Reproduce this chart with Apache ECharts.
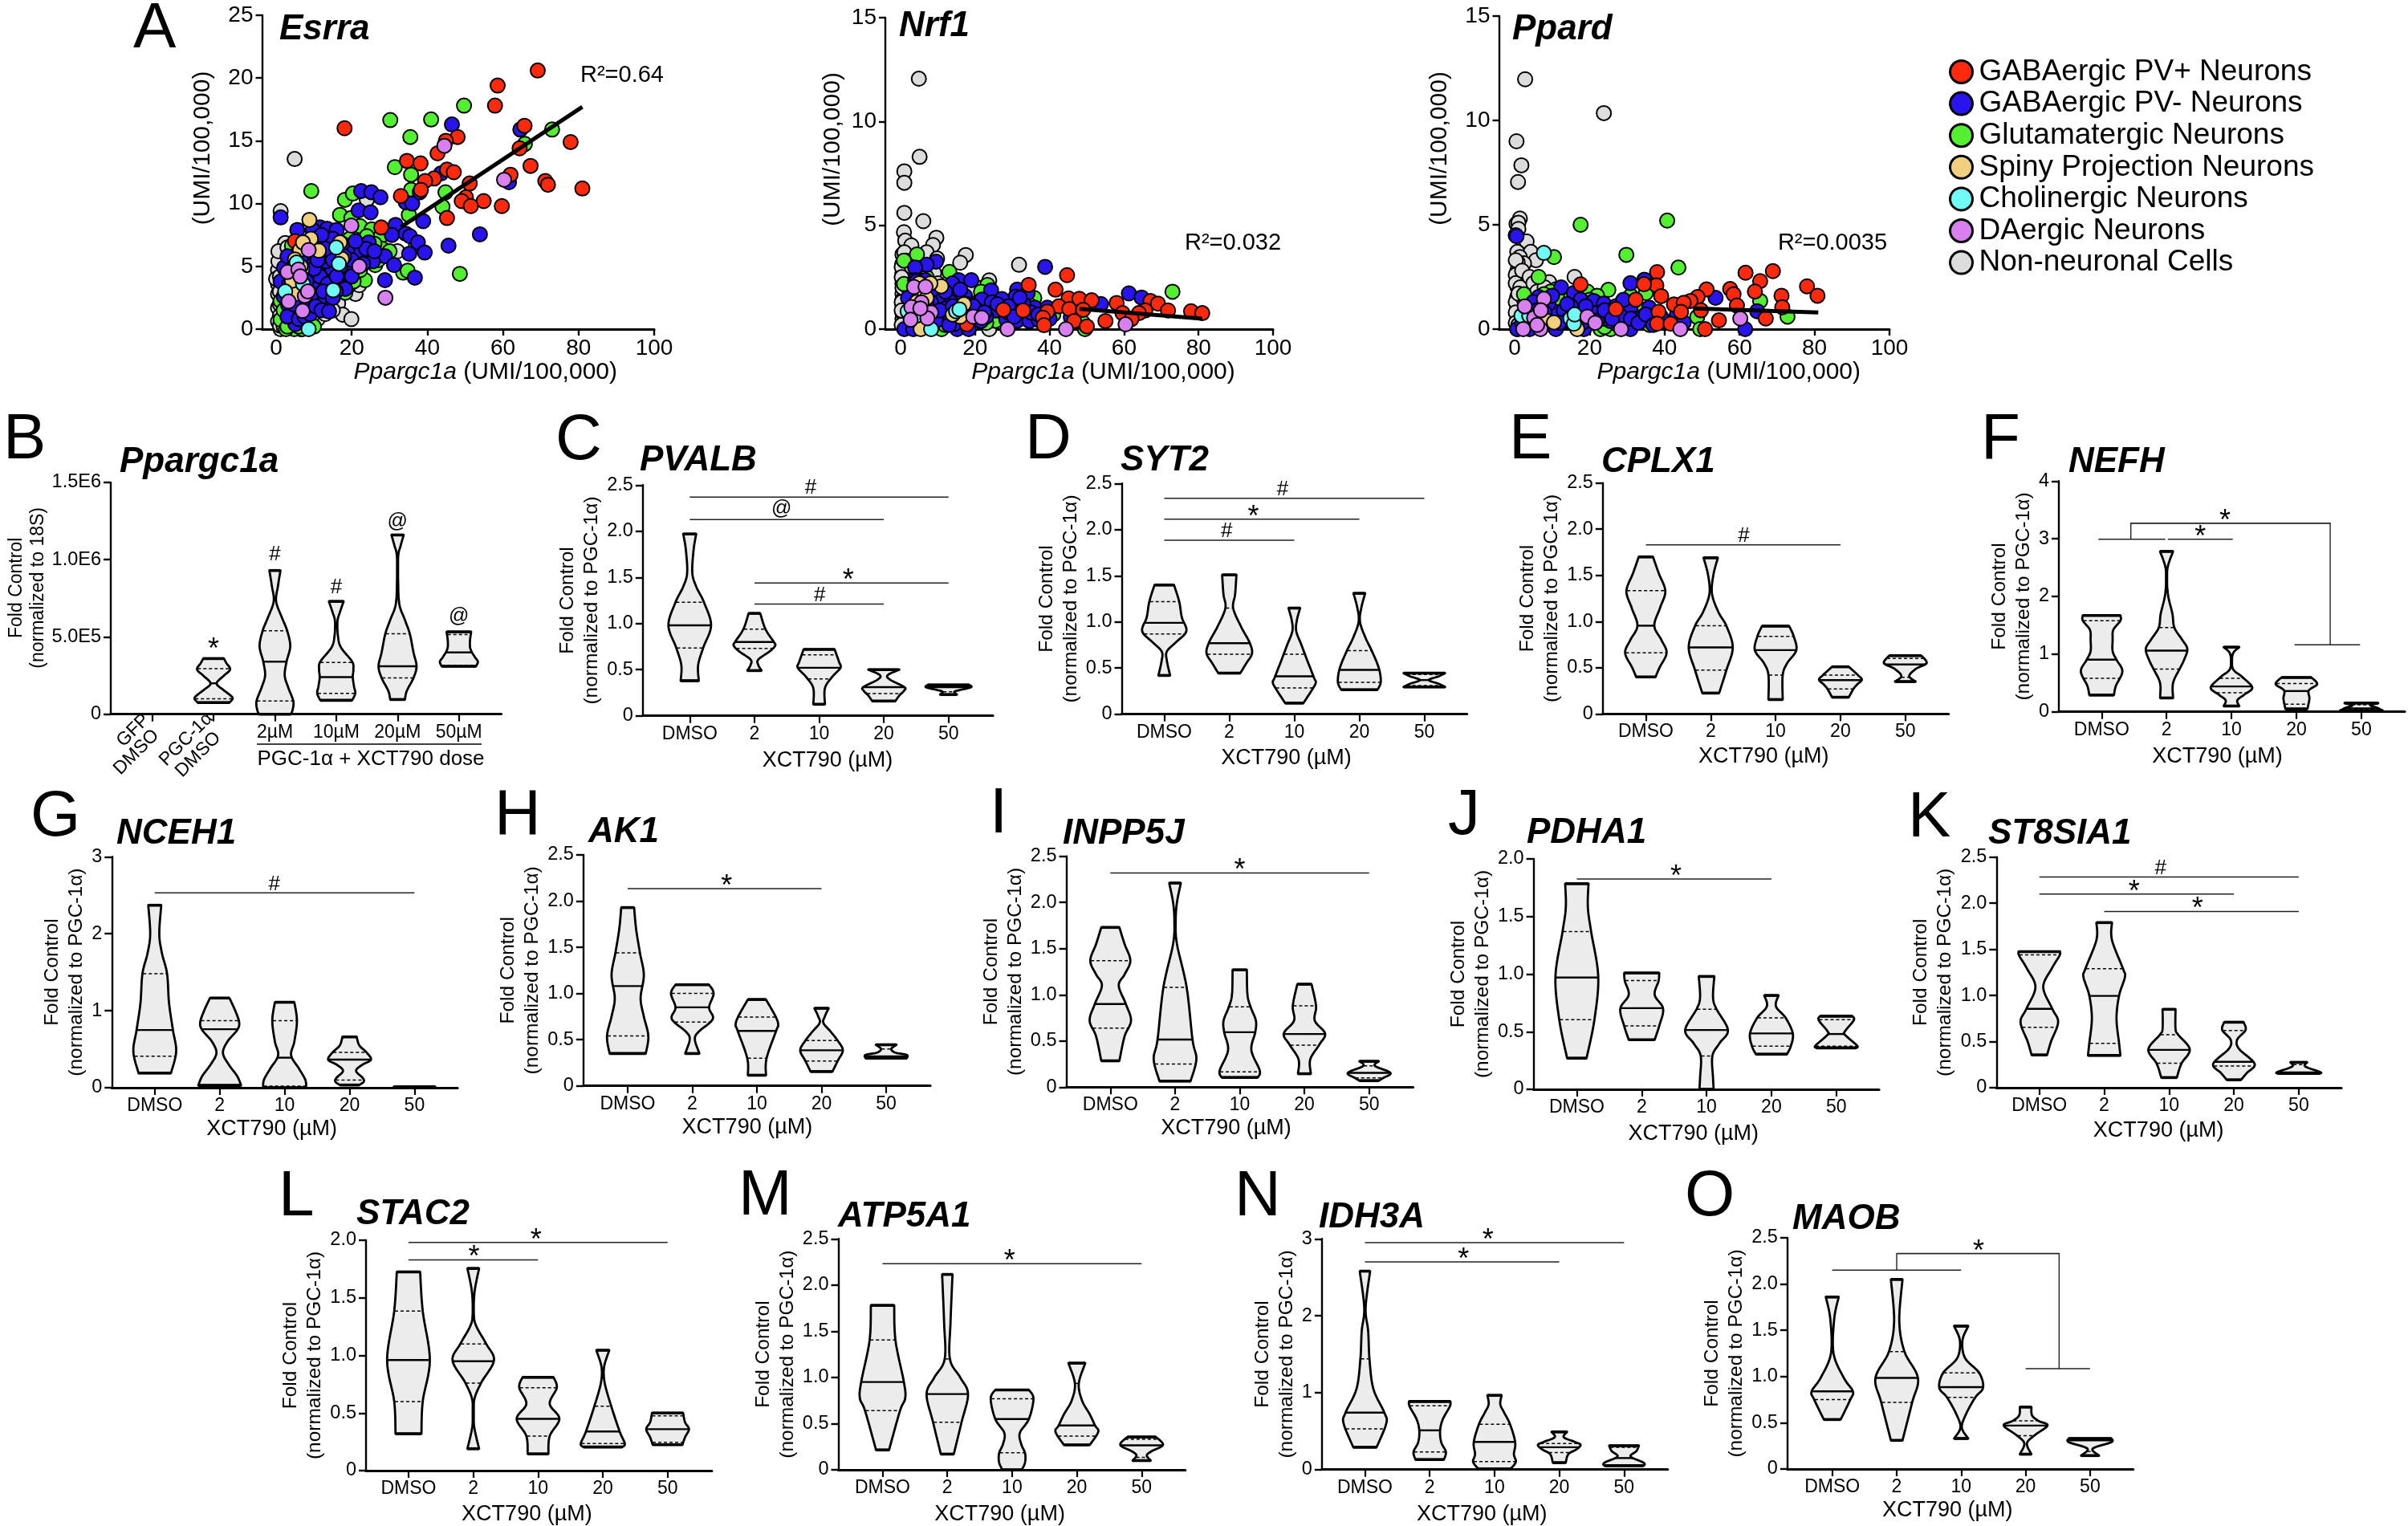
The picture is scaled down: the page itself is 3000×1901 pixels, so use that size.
<!DOCTYPE html>
<html><head><meta charset="utf-8">
<script src="https://cdn.jsdelivr.net/npm/echarts@6/dist/echarts.min.js"></script>
<style>html,body{margin:0;padding:0;background:#fff}#c{width:3000px;height:1901px}</style>
</head><body><div id="c"></div>
<script>
// ---------- Panel A: scatter values [Ppargc1a, gene], UMI/100,000 ----------
const cellTypes = ['GABAergic PV+ Neurons','GABAergic PV- Neurons','Glutamatergic Neurons','Spiny Projection Neurons','Cholinergic Neurons','DAergic Neurons','Non-neuronal Cells'];
const xTicksA = [0,20,40,60,80,100];

const esrraRed = [[69.2,20.6],[58.6,19.4],[57.9,17.8],[18.1,16],[65.7,16.2],[48,15.3],[44.9,15],[77.9,14.9],[64.4,14.4],[42.7,14],[34.6,13.4],[38.2,13.2],[67.3,13],[45.2,12.7],[47,12.5],[62,12.3],[41.8,12],[39.4,11.8],[51.2,11.6],[71.2,11.8],[71.9,11.5],[81,11.2],[38.3,11.1],[33,10.6],[50.2,10.5],[49.1,10.2],[54.9,10.2],[51.5,9.8],[59.7,9.8],[45.2,8.85],[27.8,8.1],[5,7]];
const esrraBlue = [[64.6,15.9],[46.5,16.3],[43.6,12.4],[61.6,11.7],[22.5,11],[25.2,10.9],[27.6,10.5],[34.3,10.1],[36,10],[38,10.9],[21.8,9.45],[25,9.3],[1.2,8.9],[38.9,8.6],[31.6,8.3],[5.6,7.9],[11.6,8.1],[9.7,7.9],[13.5,8],[16,7.9],[30.6,7.5],[34.3,7.6],[35.4,7.4],[53.9,7.55],[37.5,6.9],[24.5,6.9],[45.6,6.65],[13.4,6.9],[39.3,6.1],[35.2,6],[22.2,6],[23.8,6.4],[18.8,6.2],[28.8,5.8],[25.6,5.4],[31.2,5.1],[19.1,4.7],[11.6,4.7],[14.8,4.8],[13.2,5.4],[36.7,4.1],[28.8,3.9],[1.2,3.8],[18.3,3.2],[10,3.2],[11.6,4.2],[13.7,2.2],[11.3,2.3],[9.3,2.2],[7.4,1.9],[5.1,.4],[6.3,1.3],[3.2,1.9],[7.4,3.6],[2.1,4.9],[8.4,5.3],[15.8,3],[13.7,3.6],[16.9,6.2],[9.5,2.8],[6.3,2.8],[12,6.3],[15,7.2],[10,6],[6.5,5.5],[17,5],[20,5.5],[8.5,4.5],[5,3.8],[12.5,3],[15,2.5],[4,3],[17.5,6.8],[21,7],[3,5.8],[4,4.6],[6,6.6],[8,6.4],[10,7.2],[12,7.5],[14,6.2],[15,5.5],[16,4.2],[18,5.8],[20,4.2],[23,5.2],[26,6.2],[2,2.6],[3,1],[4.5,2],[6,.8],[7.5,1],[9,1.2],[10.5,1.8],[12,1.5],[14,1.4],[10,4.8],[8,3.8],[3.5,3.6],[11,5.5],[13,6.4]];
const esrraGreen = [[49.7,17.8],[30.2,16.65],[41,16.7],[73,15.9],[35.5,15.3],[65.8,14.75],[31.4,12.9],[35.7,12.3],[35.7,11.1],[44.8,10.9],[9.3,11],[18.2,10.3],[20.3,10.8],[44,9.75],[35.1,9.1],[16.9,9.1],[19.9,8.85],[22.2,8.2],[25.3,7.95],[27.7,7.4],[19.5,7.2],[28.1,6.4],[37,6.7],[4.2,6.65],[48.6,4.4],[33.6,4.5],[34.8,4.65],[26.2,5.1],[23.5,3.9],[14,3.85],[19.7,4.05],[18.3,2.9],[1.2,2.25],[1.2,.75],[4.8,0],[11.6,1.7],[9.5,1.07],[10.6,5.3],[16.9,4.05],[22.2,4.7],[13.7,4.7],[6.3,4.3],[2.6,0],[8.4,2.35],[3.7,1.3],[16,5.8],[12,4],[9,3.6],[24,6],[21,5],[7,0],[5,1],[14,3],[3,3.5],[8,4.8],[18,4.8],[26,6.8],[12,2.8],[2,1.5],[3,2.4],[6,1.8],[7.5,2.6],[9,4.4],[12,5.8],[14,5],[15,3.4],[17,3.5],[19,3.4],[20.5,3.8],[22,5.8],[24,7.4],[27,5.5],[30,6.2],[3,.2],[6,.2],[10,.2]];
const esrraGold = [[8.8,8.7],[9.2,7.2],[11.3,6.25],[6.3,6.3],[16.9,6.9],[7.1,6.9],[17.4,5.6],[5,5.55],[6.9,4.8],[5.1,2.8],[4.2,3.85],[6.5,5]];
const esrraCyan = [[15.9,6.5],[16.6,5.2],[5.4,5.3],[15.1,3.1],[7.1,3.6],[2.4,3],[8.6,0]];
const esrraPurple = [[44.5,14.6],[60.3,11.9],[19.9,8.25],[8.6,6.3],[22,5],[3,4.55],[5.9,4.75],[6.4,4.2],[7.6,2.65],[28.9,2.5],[3.3,2.2],[7,1.45],[8.4,3]];
const esrraGray = [[4.9,13.55],[1.2,9.4],[24,10.3],[2.4,6.85],[32.1,6.2],[1.4,5.85],[1.8,5.5],[20.6,3.25],[16.4,2.05],[17.6,1.15],[19.9,.8],[1.2,0],[.5,4.7],[.5,3.6],[.5,2.8],[.5,1.7],[1,1.07],[13.7,1.9],[8.4,.4],[1.6,2.8],[0,4],[.5,.6],[.6,5.4],[.6,6.2],[1,4.2],[1,3],[1,2],[1,.3],[2,.2],[3,.8],[2,1],[5,.3],[6.5,0],[9,1],[11,.8],[13,1.2],[15,1.5],[4,6],[3,6.5],[21,2.8],[22,3.5]];
const esrraFit = [[33,8.13],[81,17.7]];

const nrf1Red = [[44.7,2.6],[34.4,2.13],[41.6,1.9],[45.1,1.48],[48,1.46],[51.3,1.39],[58,1.26],[67.1,1.35],[69.1,1.23],[42.5,1.1],[45.3,.97],[49,.93],[27.6,.93],[32.9,.9],[39.4,.84],[71.8,.9],[78,.86],[81,.77],[59.6,.77],[65.7,.9],[64,.77],[62,.49],[38.2,.55],[55,.39],[46.6,.39],[50,.13],[38.5,.19],[17.8,.23]];
const nrf1Blue = [[38.8,3],[9.5,3.25],[7,3.1],[3.9,2.97],[15.6,2.36],[19,2.36],[6.7,2.36],[3.9,2.36],[13.9,2.2],[24.3,1.87],[31.3,1.9],[34.1,1.74],[61.3,1.72],[64.7,1.52],[11.3,1.55],[17.3,1.59],[15.4,1.68],[30.9,1.57],[27.2,1.45],[13.5,1.29],[21.8,1.42],[24.5,1.29],[53.8,1.21],[36,1.03],[39.4,1.03],[25.5,.9],[31.3,.41],[28.4,.45],[34.6,.39],[37,.45],[45.7,.58],[13,.52],[21.6,.39],[1,0],[15.2,0],[18.3,0],[3.4,0],[10,.77],[16.8,.77],[15.9,.39],[14.5,.25],[20.7,.9],[4.3,2.3],[8.2,1.3],[6.3,1.9],[29,.8],[33,1.2],[23,.6],[12,1],[18,1.2],[2,1.5],[3,.9],[5,1.6],[6,.5],[7,1.2],[8.5,1.9],[9.5,.4],[10.5,.9],[12,1.8],[13,.2],[14,1.1],[16,1.9],[18,.5],[19.5,1.1],[22.5,.8],[26,1.2],[29,1.1],[30.5,.6],[32,1.5],[35,.8],[37,.7],[40,.5]];
const nrf1Green = [[4.4,3.6],[.9,3.3],[13.1,2.75],[.9,2.17],[23.3,2.13],[73,1.8],[35.9,1.5],[41,.7],[49.5,0],[11,0],[25.5,.7],[25.5,.4],[19.2,1.15],[21.6,1.8],[2.4,1.5],[4.3,.9],[49,.3],[34.6,1.16],[33.2,.77],[13,1],[16.8,1.4],[7,2.5],[9,.5],[22,1],[3,.3],[6.5,2],[8,.3],[10,1.1],[12,.2],[15,1.9],[17,.3],[19,.2],[23,.3],[24,1.5],[28,.7],[30,1.2]];
const nrf1Gold = [[10.9,2.06],[6.3,1.74],[16.3,1.03],[5.4,0],[7.7,.9],[4.3,1.3],[16,.6],[5,2.2],[7,1.5],[8,2.2],[17,1.2],[14,.7]];
const nrf1Cyan = [[14.9,.86],[8.2,0],[1.9,.86],[4.3,.65],[15.8,.95]];
const nrf1Purple = [[3.6,2.03],[6.7,2.04],[5.6,1.29],[2.9,1.06],[8.2,.8],[2.7,.45],[7.2,.52],[19.5,.6],[21.8,.55],[28.7,0],[44.4,0],[60.4,.23],[5.3,1]];
const nrf1Gray = [[4.9,12.06],[5.1,8.3],[1,7.6],[1,7.05],[1,5.6],[6.1,5.2],[.9,4.67],[1.25,4.26],[9.6,4.4],[2.9,4.03],[8.7,4.05],[7,3.7],[17.5,3.57],[16,3.2],[31.8,3.1],[9.8,3.4],[23.8,2.35],[23.8,0],[.5,3.6],[.5,3.15],[.5,2.7],[1.9,2.6],[.5,2.2],[.5,1.7],[.5,1.15],[.5,.5],[1.4,.9],[20.7,1.9],[21.6,.5],[5.3,2.85],[20.7,1.55],[.5,.8],[.5,1.4],[.5,2],[2,2],[.3,3],[.3,2.5],[.3,1.3],[.3,.2],[1,3.7],[1.5,3.3],[2.5,1.5],[3,3],[6,2],[8,2.3],[9,2.7],[10,2.2],[14,1.9],[18,1.6],[19,1.9],[22,2],[3,.2],[.3,.9]];
const nrf1Fit = [[48,.98],[81,.5]];

const ppardRed = [[68.9,2.78],[61.6,2.7],[65.5,2.3],[38,2.73],[37.8,2.1],[34.5,2.15],[17.6,2.14],[78,2.05],[51.2,1.9],[57.5,1.92],[64.1,1.8],[39.1,1.58],[80.8,1.6],[58.4,1.67],[48.8,1.54],[71.2,1.6],[46.9,1.35],[32.3,1.41],[42.5,1.18],[45.1,1.26],[59.3,1.13],[71.4,1.05],[38.4,.83],[44.4,.83],[49.7,.9],[27,.96],[54.5,.42],[67,.51],[38,.26],[41.6,.26],[50.8,0]];
const ppardBlue = [[.5,4.45],[30.9,2.2],[34.6,2.37],[12.4,2],[15.8,1.73],[6.4,1.54],[53.6,1.5],[17.6,1.41],[21.1,1.35],[23.8,1.22],[28.4,1.22],[35.9,1.03],[11,.83],[13.1,.9],[30.9,.9],[34.5,.64],[64.7,.86],[61.5,0],[25.6,.38],[28.2,.64],[43.3,.7],[45.1,.32],[36.2,.38],[.7,0],[11,0],[18.5,0],[30.9,0],[21.1,.77],[23.8,.5],[9,1.2],[15,1.1],[26,.9],[32,.5],[19,.4],[4,0],[14,.4],[3,.9],[5,1.3],[7,.3],[8,.8],[10,1.6],[12,.3],[14,1.2],[16,.7],[18,.3],[19,1.1],[22,.4],[24,.9],[26,.5],[27,1.1],[29,1.4],[31,.5],[33,.3],[35,.7],[37,.2],[39,.6],[2,.3],[6,.9]];
const ppardGreen = [[17.6,5],[40.7,5.2],[29.8,3.56],[10.5,3.45],[43.7,2.95],[6.4,2.5],[25,1.88],[2.5,1.67],[65.5,1.35],[72.8,.6],[48.7,.58],[49.5,0],[35,1.73],[19.4,1.8],[9.6,1.8],[12.3,1.35],[22,1.6],[22.9,0],[25.6,0],[32.7,.38],[7.8,1.67],[38,.64],[16.7,1.15],[29,.3],[20,.9],[5,1.3],[8,.5],[10,.2],[13,.6],[15,1.5],[18,.5],[20,1.4],[23,1.2],[26,.3],[28,.5],[31,1.6],[33,1],[36,.2],[40,.4],[24,.1]];
const ppardGold = [[8.7,.38],[10.5,.32],[16.7,0]];
const ppardCyan = [[7.8,3.65],[1.8,.64],[14.9,.51],[15.8,.26],[3.9,.64],[16,.7]];
const ppardPurple = [[7.8,1.45],[2.7,1.09],[5.2,.54],[19.4,.6],[21.5,.3],[60.2,.51],[44.2,0],[28.4,0],[2.3,0],[6.9,0],[6,.2],[7,.9]];
const ppardGray = [[2.8,11.97],[23.8,10.35],[.5,9],[1.8,7.85],[.9,7.05],[1.4,5.3],[.5,5.05],[3.2,4.2],[.7,3.7],[4.3,3.7],[1.4,3.45],[5.7,3.3],[2.5,3.15],[.7,2.8],[1.6,2.45],[16,2.5],[9.2,2.25],[.7,2.05],[3.4,1.9],[.7,1.55],[.7,1.03],[.7,.5],[.7,0],[13,1.65],[1,5.1],[1,4.8],[.8,3.2],[.3,4.5],[.3,3.3],[.3,2.6],[.3,2.2],[.3,1.3],[.3,.8],[.3,.3],[1.5,2],[2,2.8],[2.5,1.4],[4,2.5],[5,2.2],[6,1.8],[8,2],[1,1.7],[1,.2],[11,1.9]];
const ppardFit = [[48,.99],[81,.8]];

// ---------- Violins: [q3, median, q1, [[value, half-width as % of category spacing], ...]] ----------
const doseLabels = ['DMSO','2','10','20','50'];
const bLabels = ['','','2µM','10µM','20µM','50µM'];
const bTickLabels = ['0','5.0E5','1.0E6','1.5E6'];
const ticks25 = [0,.5,1,1.5,2,2.5];
const ticks20 = [0,.5,1,1.5,2];
const ticks3 = [0,1,2,3];
const ticks4 = [0,1,2,3,4];
const ticksB = [0,5,10,15];

const ppargc1aViolins = [null,
 [2.95,2,1,[[3.6,17],[3.3,21],[2.9,27],[2.5,17],[2,5],[1.6,15],[1.2,28],[1,31],[.75,26]]],
 [5.4,3.4,.85,[[9.3,9],[8.3,5],[7.3,2],[6.2,12],[5.4,20],[4.4,25],[3.4,19],[2.5,16],[1.7,22],[.85,30],[.3,29],[0,26]]],
 [3.35,2.4,1.35,[[7.3,12],[6.6,6],[6,2],[5,3],[4.3,8],[3.4,26],[2.9,28],[2.4,27],[1.8,29],[1.35,31],[.9,26]]],
 [5.2,3.1,2.35,[[11.6,10],[10.9,5],[10.2,1],[8.5,1],[7.1,3],[6.1,12],[5.2,20],[4,26],[3.1,31],[2.35,26],[1.5,15],[.95,12]]],
 [5.15,4,3.15,[[5.33,20],[4.7,18],[4.2,19],[3.7,26],[3.4,31],[3.1,28]]]];
const pvalbViolins = [
 [1.23,.98,.735,[[1.97,10],[1.8,6],[1.55,4],[1.4,10],[1.23,22],[.98,33],[.74,21],[.55,13],[.38,14]]],
 [.94,.8,.73,[[1.11,9],[.94,17],[.8,30],[.76,32],[.7,24],[.61,6],[.55,6],[.49,11]]],
 [.66,.52,.4,[[.72,24],[.66,27],[.58,31],[.52,33],[.42,20],[.3,9],[.125,9]]],
 [.49,.31,.24,[[.5,24],[.44,6],[.39,10],[.31,32],[.27,31],[.22,24],[.16,18]]],
 [.33,.31,.26,[[.335,32],[.31,35],[.28,18],[.26,9],[.23,13]]]];
const syt2Violins = [
 [1.22,.99,.87,[[1.4,15],[1.22,23],[1.05,27],[.9,34],[.78,18],[.68,4],[.58,4],[.42,9]]],
 [1.15,.77,.65,[[1.51,11],[1.3,9],[1.15,6],[.95,18],[.78,31],[.66,35],[.55,26],[.445,17]]],
 [.65,.41,.285,[[1.15,9],[1.02,4],[.9,3],[.75,11],[.6,19],[.4,30],[.34,33],[.25,26],[.12,14]]],
 [.69,.48,.345,[[1.31,9],[1.15,3],[1,1],[.82,10],[.69,19],[.5,30],[.35,33],[.265,28]]],
 [.43,.37,.31,[[.445,32],[.41,22],[.37,7],[.33,22],[.295,32]]]];
const cplx1Violins = [
 [1.335,.955,.66,[[1.7,11],[1.52,20],[1.33,30],[1.15,22],[.955,13],[.8,24],[.66,32],[.5,21],[.4,15]]],
 [.955,.72,.475,[[1.69,11],[1.5,4],[1.3,2],[1.1,12],[.955,24],[.72,34],[.47,24],[.225,13]]],
 [.84,.69,.42,[[.95,21],[.84,28],[.69,32],[.55,18],[.42,11],[.155,11]]],
 [.42,.365,.27,[[.51,13],[.42,27],[.37,33],[.32,26],[.27,20],[.18,13]]],
 [.6,.535,.395,[[.63,25],[.55,33],[.49,17],[.41,6],[.35,16]]]];
const nefhViolins = [
 [1.58,.905,.58,[[1.67,29],[1.58,29],[1.42,18],[1.25,17],[1.05,17],[.9,23],[.7,32],[.45,22],[.29,19]]],
 [1.46,1.06,.74,[[2.78,10],[2.46,1],[2.05,2],[1.7,9],[1.46,12],[1.25,24],[1.09,32],[.9,27],[.74,20],[.5,10],[.24,10]]],
 [.58,.44,.33,[[1.12,12],[1,2],[.75,2],[.6,17],[.42,32],[.3,20],[.2,9],[.1,12]]],
 [.49,.36,.13,[[.595,23],[.48,32],[.37,19],[.23,20],[.05,17]]],
 [.12,.06,.04,[[.15,26],[.11,14],[.07,24],[.02,33]]]];
const nceh1Violins = [
 [1.48,.75,.41,[[2.37,10],[2,7],[1.75,11],[1.48,19],[1.1,22],[.75,28],[.47,33],[.19,25]]],
 [.87,.76,.03,[[1.165,15],[1,24],[.85,30],[.75,27],[.6,12],[.45,5],[.3,14],[.15,27],[.03,33]]],
 [.87,.39,.02,[[1.11,15],[.87,19],[.6,15],[.42,10],[.25,22],[.1,32],[0,33]]],
 [.46,.365,.1,[[.66,11],[.55,15],[.46,26],[.365,33],[.3,20],[.22,10],[.13,20],[.08,22],[.035,15]]],
 [null,.005,null,[[.012,32],[0,32]]]];
const ak1Violins = [
 [1.44,1.08,.54,[[1.93,10],[1.7,13],[1.44,19],[1.2,25],[.95,20],[.75,25],[.54,32],[.35,28]]],
 [1,.85,.69,[[1.095,26],[1,33],[.85,26],[.75,32],[.69,28],[.58,9],[.5,4],[.35,11]]],
 [.745,.595,.3,[[.935,14],[.75,29],[.66,33],[.6,30],[.3,15],[.115,14]]],
 [.49,.385,.27,[[.84,11],[.75,5],[.68,3],[.58,15],[.49,25],[.385,33],[.27,25],[.155,17]]],
 [.4,.32,.31,[[.445,16],[.4,8],[.36,14],[.335,32],[.3,32]]]];
const inpp5jViolins = [
 [1.37,.9,.64,[[1.73,14],[1.55,22],[1.37,31],[1.22,22],[1.1,13],[.9,24],[.72,32],[.55,22],[.285,14]]],
 [1.08,.515,.25,[[2.21,9],[2,3],[1.8,1],[1.55,3],[1.08,18],[.515,27],[.3,33],[.065,24]]],
 [.87,.595,.165,[[1.27,11],[1,12],[.865,17],[.72,25],[.595,24],[.4,18],[.18,31],[.105,28]]],
 [.88,.575,.455,[[1.115,11],[.88,18],[.72,16],[.58,32],[.46,23],[.3,9],[.145,10]]],
 [.23,.155,.1,[[.28,15],[.23,9],[.155,33],[.1,22],[.07,15]]]];
const pdha1Violins = [
 [1.37,.97,.605,[[1.785,18],[1.58,17],[1.37,22],[.98,33],[.6,27],[.27,15]]],
 [.945,.705,.55,[[1.01,27],[.94,26],[.82,20],[.7,33],[.55,27],[.43,20]]],
 [.695,.515,.29,[[.98,12],[.8,10],[.7,15],[.515,33],[.4,20],[.29,9],[.1,10],[0,11]]],
 [.62,.485,.375,[[.815,11],[.72,7],[.62,22],[.485,33],[.375,30],[.305,24]]],
 [.605,.48,.375,[[.635,25],[.6,27],[.5,13],[.47,14],[.38,32],[.36,31]]]];
const st8sia1Violins = [
 [1.44,.855,.655,[[1.475,32],[1.43,31],[1.29,19],[1.09,6],[.855,20],[.71,29],[.5,18],[.355,12]]],
 [1.29,.995,.48,[[1.79,12],[1.6,12],[1.29,29],[1.2,32],[1,23],[.75,19],[.48,23],[.35,25]]],
 [.575,.41,.265,[[.85,10],[.64,10],[.575,14],[.415,32],[.26,19],[.11,12]]],
 [.62,.28,.235,[[.71,15],[.625,18],[.52,5],[.42,8],[.26,32],[.16,20],[.085,11]]],
 [.25,.165,.16,[[.275,13],[.23,10],[.17,33],[.155,33]]]];
const stac2Violins = [
 [1.385,.96,.6,[[1.725,18],[1.385,22],[.96,33],[.6,22],[.32,20]]],
 [1.1,.95,.76,[[1.755,9],[1.55,2],[1.35,1],[1.25,5],[1.1,20],[.955,32],[.76,12],[.6,1],[.4,1],[.19,9]]],
 [.72,.45,.3,[[.81,24],[.72,29],[.58,18],[.45,33],[.3,18],[.145,16]]],
 [.56,.34,.235,[[1.045,10],[.9,2],[.76,3],[.56,13],[.34,26],[.235,34],[.205,30]]],
 [.475,.36,.245,[[.5,24],[.42,27],[.36,33],[.29,27],[.225,23]]]];
const atp5a1Violins = [
 [1.405,.95,.64,[[1.78,18],[1.4,20],[.95,33],[.775,35],[.64,27],[.215,10]]],
 [1.2,.82,.515,[[2.115,8],[1.6,5],[1.2,4],[1,20],[.82,32],[.515,22],[.17,10]]],
 [.77,.55,.185,[[.865,26],[.77,33],[.55,26],[.4,12],[.28,14],[.18,20],[.08,20],[0,15]]],
 [.935,.48,.365,[[1.155,13],[.935,3],[.75,8],[.6,20],[.48,28],[.41,33],[.27,20]]],
 [.33,.265,.135,[[.355,22],[.27,33],[.2,15],[.155,8],[.1,14]]]];
const idh3aViolins = [
 [1.44,.74,.53,[[2.58,8],[2.1,1],[1.8,5],[1.44,7],[1.05,13],[.74,30],[.6,33],[.29,18]]],
 [.83,.51,.23,[[.885,32],[.82,31],[.65,20],[.5,16],[.35,18],[.23,25],[.13,22]]],
 [.59,.36,.105,[[.965,11],[.85,9],[.74,15],[.59,24],[.355,32],[.2,30],[.1,33],[.01,25]]],
 [.34,.29,.22,[[.49,12],[.42,7],[.36,24],[.32,33],[.26,26],[.2,14],[.09,10]]],
 [.29,.15,.06,[[.31,23],[.24,19],[.17,10],[.1,28],[.07,32],[.05,30]]]];
const maobViolins = [
 [null,.84,.75,[[1.86,10],[1.62,3],[1.25,2],[.985,18],[.84,32],[.75,28],[.535,13]]],
 [1.27,.985,.72,[[2.05,9],[1.6,4],[1.27,12],[.985,33],[.72,24],[.31,9]]],
 [1.04,.885,.775,[[1.545,11],[1.39,2],[1.2,6],[1.04,28],[.88,34],[.775,22],[.6,8],[.45,1],[.33,11]]],
 [.52,.47,.36,[[.67,9],[.58,10],[.52,20],[.47,34],[.36,13],[.275,2],[.16,9]]],
 [.325,.31,.19,[[.33,33],[.29,33],[.22,4],[.145,14]]]];

// Significance marks: [from category, to category, value, symbol, symbol category]
const ppargc1aSig = [[1,1,4.5,'*',1],[2,2,10.35,'#',2],[3,3,8.2,'#',3],[4,4,12.5,'@',4],[5,5,6.35,'@',5]];
const pvalbSig = [[0,4,2.37,'#',1.87],[0,3,2.126,'@',1.42],[1,4,1.44,'*',2.45],[1,3,1.21,'#',2.01]];
const syt2Sig = [[0,4,2.34,'#',1.82],[0,3,2.114,'*',1.37],[0,2,1.885,'#',.96]];
const cplx1Sig = [[0,3,1.83,'#',1.51]];
const nefhSig = [[-.05,.98,2.99,'',0],[1.02,2.02,2.99,'*',1.52],[2.97,3.98,1.16,'',0],[.45,3.52,3.27,'*',1.9]];
const nefhBracket = [[.45,2.99],[.45,3.27],[3.52,3.27],[3.52,1.16]];
const nceh1Sig = [[0,4,2.53,'#',1.84]];
const ak1Sig = [[0,3,2.135,'*',1.53]];
const inpp5jSig = [[0,4,2.32,'*',2]];
const pdha1Sig = [[0,3,1.825,'*',1.53]];
const st8sia1Sig = [[0,4,2.285,'#',1.87],[0,3,2.1,'*',1.46],[1,4,1.91,'*',2.44]];
const stac2Sig = [[0,4,1.98,'*',1.97],[0,2,1.83,'*',1.01]];
const atp5a1Sig = [[0,4,2.23,'*',1.96]];
const idh3aSig = [[0,4,2.95,'*',1.9],[0,3,2.7,'*',1.52]];
const maobSig = [[0,2,2.15,'',0],[3,4,1.085,'',0],[1,3.52,2.33,'*',2.27]];
const maobBracket = [[1,2.15],[1,2.33],[3.52,2.33],[3.52,1.085]];

// ---------- drawing ----------
const FONT = '"Liberation Sans", Arial, sans-serif';
const COL = {red:'#ff2a0d',blue:'#2a14ee',green:'#52f030',gold:'#f0d080',cyan:'#70fbf5',purple:'#d880f0',gray:'#dcdcdc'};
const grids=[],xAxes=[],yAxes=[],series=[],texts=[];
const txt=(text,x,base,size,o={})=>texts.push(Object.assign({type:'text',x,y:base-.3465*size,silent:true,style:{text,fontSize:size,fontFamily:FONT,fontWeight:o.weight||'normal',fontStyle:o.style||'normal',fill:'#000',align:o.align||'left',verticalAlign:'middle'}},o.rot?{rotation:o.rot}:{}));
const axLine=w=>({show:true,onZero:false,lineStyle:{color:'#000',width:w}});
const axTick=(vals,len,w)=>({show:true,customValues:vals,length:len,lineStyle:{color:'#000',width:w}});

function scatterPanel(c){
  const g=grids.length;
  grids.push({left:c.axisX,top:c.yTop,width:c.xEnd-c.axisX,height:c.y0-c.yTop});
  const yt=[];for(let v=0;v<=c.yMax;v+=5)yt.push(v);
  xAxes.push({type:'value',gridIndex:g,min:(c.axisX-c.x0)/c.dx,max:100,axisLine:axLine(3),axisTick:axTick(xTicksA,8,2.4),splitLine:{show:false},
    axisLabel:{customValues:xTicksA,fontSize:28,fontFamily:FONT,color:'#000',margin:10,hideOverlap:false,showMinLabel:true,showMaxLabel:true},
    name:'{i|Ppargc1a} (UMI/100,000)',nameLocation:'middle',nameGap:39,nameTextStyle:{fontSize:30,fontFamily:FONT,color:'#000',padding:[0,0,0,c.nameShift*2],rich:{i:{fontStyle:'italic',fontSize:30,fontFamily:FONT,color:'#000'}}}});
  yAxes.push({type:'value',gridIndex:g,min:0,max:c.yMax,axisLine:axLine(2.4),axisTick:axTick(yt,8,2.4),splitLine:{show:false},
    axisLabel:{customValues:yt,fontSize:28,fontFamily:FONT,color:'#000',margin:11},
    name:'(UMI/100,000)',nameLocation:'middle',nameRotate:90,nameGap:c.yGap,nameTextStyle:{fontSize:30,fontFamily:FONT,color:'#000',padding:[0,0,0,60]}});
  const base={type:'scatter',xAxisIndex:g,yAxisIndex:g,symbolSize:18,clip:false,animation:false};
  series.push({type:'line',xAxisIndex:g,yAxisIndex:g,data:c.fit,showSymbol:false,lineStyle:{color:'#000',width:5},clip:false,animation:false,silent:true});
  const s=(name,data,col)=>series.push(Object.assign({},base,{name,data,itemStyle:{color:col,borderColor:'#000',borderWidth:2,opacity:1}}));
  s(cellTypes[6],c.gray,COL.gray);
  s(cellTypes[2],c.green,COL.green);
  s(cellTypes[1],c.blue,COL.blue);
  s(cellTypes[0],c.red,COL.red);
  s(cellTypes[3],c.gold,COL.gold);
  s(cellTypes[4],c.cyan,COL.cyan);
  s(cellTypes[5],c.purple,COL.purple);
}

function curve(p){
  const out=[];
  for(let i=0;i<p.length-1;i++){
    const a=p[Math.max(i-1,0)],b=p[i],c=p[i+1],d=p[Math.min(i+2,p.length-1)];
    for(let k=0;k<8;k++){
      const t=k/8,cr=(j)=>.5*(2*b[j]+(c[j]-a[j])*t+(2*a[j]-5*b[j]+4*c[j]-d[j])*t*t+(3*b[j]-a[j]-3*c[j]+d[j])*t*t*t);
      out.push([Math.min(b[0],Math.max(c[0],cr(0))),Math.max(.8,cr(1))]);
    }
  }
  out.push(p[p.length-1]);
  return out;
}
function widthAt(cv,v){
  for(let i=0;i<cv.length-1;i++){
    const a=cv[i],b=cv[i+1];
    if(v<=a[0]&&v>=b[0]){const t=a[0]===b[0]?0:(a[0]-v)/(a[0]-b[0]);return a[1]+(b[1]-a[1])*t;}
  }
  return v>cv[0][0]?cv[0][1]:cv[cv.length-1][1];
}
const GLYPH={'*':{size:36,above:9,fix:7},'#':{size:26,above:11,fix:0},'@':{size:25,above:14,fix:1},'':{size:10,above:0,fix:0}};

function violinPanel(c){
  const g=grids.length;
  grids.push({left:c.axisX,top:c.yTop,width:c.xEnd-c.axisX,height:c.y0-c.yTop});
  const xv=c.labels.map((_,i)=>i);
  xAxes.push({type:'value',gridIndex:g,min:(c.axisX-c.x0)/c.dx,max:(c.xEnd-c.x0)/c.dx,axisLine:axLine(3.2),axisTick:axTick(xv,9,2.2),splitLine:{show:false},
    axisLabel:{customValues:xv,fontSize:23,fontFamily:FONT,color:'#000',margin:11,formatter:v=>c.labels[Math.round(v)]||''},
    name:c.xName?'{a|'+c.xName+'}':'',nameLocation:'middle',nameGap:c.xGap,nameTextStyle:{fontSize:27,fontFamily:FONT,color:'#000',padding:[0,-c.xShift*2,0,0],rich:{a:{fontSize:27,fontFamily:FONT,color:'#000'}}}});
  yAxes.push({type:'value',gridIndex:g,min:0,max:c.yMax,axisLine:axLine(2.4),axisTick:axTick(c.yTicks,9,2.4),splitLine:{show:false},
    axisLabel:{customValues:c.yTicks,fontSize:23.5,fontFamily:FONT,color:'#000',margin:12,formatter:c.yFmt},
    name:c.yName||'Fold Control\n(normalized to PGC-1α)',nameLocation:'middle',nameRotate:90,nameGap:c.yGap,nameTextStyle:{fontSize:c.yNameSize||24.5,lineHeight:c.yNameLH||30,fontFamily:FONT,color:'#000',padding:[0,0,0,c.yPad||0]}});
  const items=c.violins.map((v,i)=>v?[i,v[1]]:null).filter(Boolean);
  series.push({type:'custom',xAxisIndex:g,yAxisIndex:g,clip:false,animation:false,silent:true,data:items,encode:{x:0,y:1},
    renderItem(p,api){
      const i=api.value(0),v=c.violins[i],cv=curve(v[3]);
      const R=cv.map(([val,w])=>api.coord([i+w/100,val])),L=cv.map(([val,w])=>api.coord([i-w/100,val])).reverse();
      const ch=[{type:'polygon',shape:{points:R.concat(L)},style:{fill:'#ececec',stroke:'#000',lineWidth:2.8,lineJoin:'round'}}];
      const seg=(val,w,st)=>{const a=api.coord([i-w/100,val]),b=api.coord([i+w/100,val]);ch.push({type:'line',shape:{x1:a[0],y1:a[1],x2:b[0],y2:b[1]},style:Object.assign({stroke:'#000',fill:null},st)});};
      seg(cv[0][0],cv[0][1],{lineWidth:3.6});
      seg(cv[cv.length-1][0],cv[cv.length-1][1],{lineWidth:3.6});
      if(v[0]!=null)seg(v[0],widthAt(cv,v[0])-1,{lineWidth:1.5,lineDash:[4,3]});
      if(v[2]!=null)seg(v[2],widthAt(cv,v[2])-1,{lineWidth:1.5,lineDash:[4,3]});
      seg(v[1],widthAt(cv,v[1]),{lineWidth:2.4});
      return {type:'group',children:ch};
    }});
  series.push({type:'custom',xAxisIndex:g,yAxisIndex:g,clip:false,animation:false,silent:true,data:c.sig.map(s=>[s[0],s[2]]),encode:{x:0,y:1},
    renderItem(p,api){
      const s=c.sig[p.dataIndex],ch=[],G=GLYPH[s[3]];
      const a=api.coord([s[0],s[2]]),b=api.coord([s[1],s[2]]),t=api.coord([s[4],s[2]]);
      if(s[0]!==s[1])ch.push({type:'line',shape:{x1:a[0],y1:a[1],x2:b[0],y2:b[1]},style:{stroke:'#222',lineWidth:1.5,fill:null}});
      if(s[3])ch.push({type:'text',style:{text:s[3],x:t[0],y:t[1]-(s[0]!==s[1]?G.above:0)+G.fix,fontSize:G.size,fontFamily:FONT,fill:'#000',align:'center',verticalAlign:'middle'}});
      return {type:'group',children:ch};
    }});
  if(c.bracket)series.push({type:'custom',xAxisIndex:g,yAxisIndex:g,clip:false,animation:false,silent:true,data:[[c.bracket[0][0],c.bracket[0][1]]],encode:{x:0,y:1},
    renderItem(p,api){return {type:'polyline',shape:{points:c.bracket.map(q=>api.coord(q))},style:{stroke:'#222',lineWidth:1.4,fill:null}};}});
  txt(c.letter,c.lx,c.lb,80);
  txt(c.gene,c.tx,c.tb,44,{weight:'bold',style:'italic'});
}

scatterPanel({axisX:326.5,xEnd:815,x0:344,dx:4.71,y0:410,yTop:19,yMax:25,yGap:59,nameShift:34,fit:esrraFit,red:esrraRed,blue:esrraBlue,green:esrraGreen,gold:esrraGold,cyan:esrraCyan,purple:esrraPurple,gray:esrraGray});
scatterPanel({axisX:1103,xEnd:1586,x0:1122,dx:4.64,y0:410,yTop:22,yMax:15,yGap:50,nameShift:30,fit:nrf1Fit,red:nrf1Red,blue:nrf1Blue,green:nrf1Green,gold:nrf1Gold,cyan:nrf1Cyan,purple:nrf1Purple,gray:nrf1Gray});
scatterPanel({axisX:1867.5,xEnd:2354,x0:1887,dx:4.67,y0:410,yTop:20,yMax:15,yGap:59,nameShift:43,fit:ppardFit,red:ppardRed,blue:ppardBlue,green:ppardGreen,gold:ppardGold,cyan:ppardCyan,purple:ppardPurple,gray:ppardGray});

const f1=v=>v===0?'0':v.toFixed(1), f0=v=>String(v), xn='XCT790 (µM)';
violinPanel({letter:'B',lx:4,lb:577,gene:'Ppargc1a',tx:149,tb:591,axisX:138,y0:889.7,yTop:601,x0:189.7,dx:76.4,xEnd:624.5,yMax:15,yTicks:ticksB,yFmt:v=>bTickLabels[ticksB.indexOf(v)],labels:bLabels,violins:ppargc1aViolins,sig:ppargc1aSig,yName:'Fold Control\n(normalized to 18S)',yNameSize:23,yNameLH:27,yGap:77,yPad:26,xGap:0,xShift:0});
violinPanel({letter:'C',lx:692,lb:578,gene:'PVALB',tx:797,tb:589,axisX:800.8,y0:891.7,yTop:604.3,x0:859.3,dx:80.6,xEnd:1237,yMax:2.5,yTicks:ticks25,yFmt:f1,labels:doseLabels,violins:pvalbViolins,sig:pvalbSig,xName:'',yGap:28,xGap:42,xShift:0});
violinPanel({letter:'D',lx:1277,lb:577,gene:'SYT2',tx:1396,tb:589,axisX:1397.5,y0:889.7,yTop:602.3,x0:1450.5,dx:81,xEnd:1827.6,yMax:2.5,yTicks:ticks25,yFmt:f1,labels:doseLabels,violins:syt2Violins,sig:syt2Sig,xName:xn,yGap:42,xGap:41,xShift:-10});
violinPanel({letter:'E',lx:1880,lb:577,gene:'CPLX1',tx:1995,tb:591,axisX:1996.8,y0:889.3,yTop:601.7,x0:2050.5,dx:80.8,xEnd:2427.6,yMax:2.5,yTicks:ticks25,yFmt:f1,labels:doseLabels,violins:cplx1Violins,sig:cplx1Sig,xName:xn,yGap:47,xGap:40,xShift:-15});
violinPanel({letter:'F',lx:2468,lb:577,gene:'NEFH',tx:2577,tb:591,axisX:2565,y0:886.7,yTop:599.3,x0:2618.3,dx:80.9,xEnd:2996,yMax:4,yTicks:ticks4,yFmt:f0,labels:doseLabels,violins:nefhViolins,sig:nefhSig,bracket:nefhBracket,xName:xn,yGap:28,xGap:42,xShift:-18});
violinPanel({letter:'G',lx:38,lb:1047,gene:'NCEH1',tx:145,tb:1054,axisX:139.3,y0:1355,yTop:1067.3,x0:192.8,dx:80.9,xEnd:570,yMax:3,yTicks:ticks3,yFmt:f0,labels:doseLabels,violins:nceh1Violins,sig:nceh1Sig,xName:xn,yGap:29,xGap:38,xShift:-16});
violinPanel({letter:'H',lx:616,lb:1045,gene:'AK1',tx:733,tb:1052,axisX:726.8,y0:1352.7,yTop:1065,x0:782,dx:80.5,xEnd:1159,yMax:2.5,yTicks:ticks25,yFmt:f1,labels:doseLabels,violins:ak1Violins,sig:ak1Sig,xName:xn,yGap:42,xGap:38,xShift:-12});
violinPanel({letter:'I',lx:1233,lb:1043,gene:'INPP5J',tx:1324,tb:1054,axisX:1328.5,y0:1354.3,yTop:1066.7,x0:1383.3,dx:80.6,xEnd:1760.5,yMax:2.5,yTicks:ticks25,yFmt:f1,labels:doseLabels,violins:inpp5jViolins,sig:inpp5jSig,xName:xn,yGap:39,xGap:38,xShift:-17});
violinPanel({letter:'J',lx:1804,lb:1045,gene:'PDHA1',tx:1902,tb:1053,axisX:1910.6,y0:1357,yTop:1070,x0:1964.5,dx:80.8,xEnd:2341,yMax:2,yTicks:ticks20,yFmt:f1,labels:doseLabels,violins:pdha1Violins,sig:pdha1Sig,xName:xn,yGap:42,xGap:42,xShift:-16});
violinPanel({letter:'K',lx:2377,lb:1048,gene:'ST8SIA1',tx:2477,tb:1054,axisX:2487.3,y0:1355,yTop:1067.7,x0:2540.7,dx:80.8,xEnd:2917,yMax:2.5,yTicks:ticks25,yFmt:f1,labels:doseLabels,violins:st8sia1Violins,sig:st8sia1Sig,xName:xn,yGap:47,xGap:40,xShift:-13});
violinPanel({letter:'L',lx:347,lb:1520,gene:'STAC2',tx:444,tb:1528,axisX:456,y0:1832,yTop:1545,x0:508.9,dx:80.7,xEnd:886.8,yMax:2,yTicks:ticks20,yFmt:f1,labels:doseLabels,violins:stac2Violins,sig:stac2Sig,xName:xn,yGap:42,xGap:41,xShift:-15});
violinPanel({letter:'M',lx:920,lb:1519,gene:'ATP5A1',tx:1044,tb:1531,axisX:1044.5,y0:1831,yTop:1543.3,x0:1099.5,dx:80.7,xEnd:1476.7,yMax:2.5,yTicks:ticks25,yFmt:f1,labels:doseLabels,violins:atp5a1Violins,sig:atp5a1Sig,xName:xn,yGap:46,xGap:42,xShift:-15});
violinPanel({letter:'N',lx:1538,lb:1520,gene:'IDH3A',tx:1643,tb:1532,axisX:1646.9,y0:1830.7,yTop:1543.3,x0:1700.5,dx:80.7,xEnd:2077.7,yMax:3,yTicks:ticks3,yFmt:f0,labels:doseLabels,violins:idh3aViolins,sig:idh3aSig,xName:xn,yGap:29,xGap:42,xShift:-16});
violinPanel({letter:'O',lx:2099,lb:1520,gene:'MAOB',tx:2233,tb:1534,axisX:2226.9,y0:1830,yTop:1542,x0:2282.7,dx:80.3,xEnd:2657.6,yMax:2.5,yTicks:ticks25,yFmt:f1,labels:doseLabels,violins:maobViolins,sig:maobSig,bracket:maobBracket,xName:xn,yGap:45,xGap:38,xShift:-16});

// Panel A headings
txt('A',166,65,80);
txt('Esrra',348,52,44,{weight:'bold',style:'italic'});
txt('Nrf1',1120,48,44,{weight:'bold',style:'italic'});
txt('Ppard',1884,52,44,{weight:'bold',style:'italic'});
txt('R²=0.64',775,104,29,{align:'center'});
txt('R²=0.032',1536,313,29,{align:'center'});
txt('R²=0.0035',2283,313,29,{align:'center'});
// Panel B extras
txt('GFP',166,918,23,{align:'center',rot:Math.PI/4});
txt('DMSO',170,945,23,{align:'center',rot:Math.PI/4});
txt('PGC-1α',232,929,23,{align:'center',rot:Math.PI/4});
txt('DMSO',247,948,23,{align:'center',rot:Math.PI/4});
txt('PGC-1α + XCT790 dose',462,955,26,{align:'center'});
texts.push({type:'line',shape:{x1:320,y1:927,x2:600,y2:927},style:{stroke:'#000',lineWidth:1.6},silent:true});
// Panel C dose-axis title sits off the axis centre
txt(xn,1031,957,27,{align:'center'});

echarts.init(document.getElementById('c')).setOption({
  animation:false,backgroundColor:'#fff',
  grid:grids,xAxis:xAxes,yAxis:yAxes,series,
  graphic:{elements:texts},
  legend:{data:cellTypes,orient:'vertical',left:2428,top:71,padding:0,itemWidth:28,itemHeight:28,itemGap:2.6,icon:'circle',selectedMode:false,
    itemStyle:{borderColor:'#000',borderWidth:3},
    textStyle:{fontSize:37,lineHeight:37,fontFamily:FONT,color:'#000',padding:[0,0,0,3]}}
});
</script></body></html>
